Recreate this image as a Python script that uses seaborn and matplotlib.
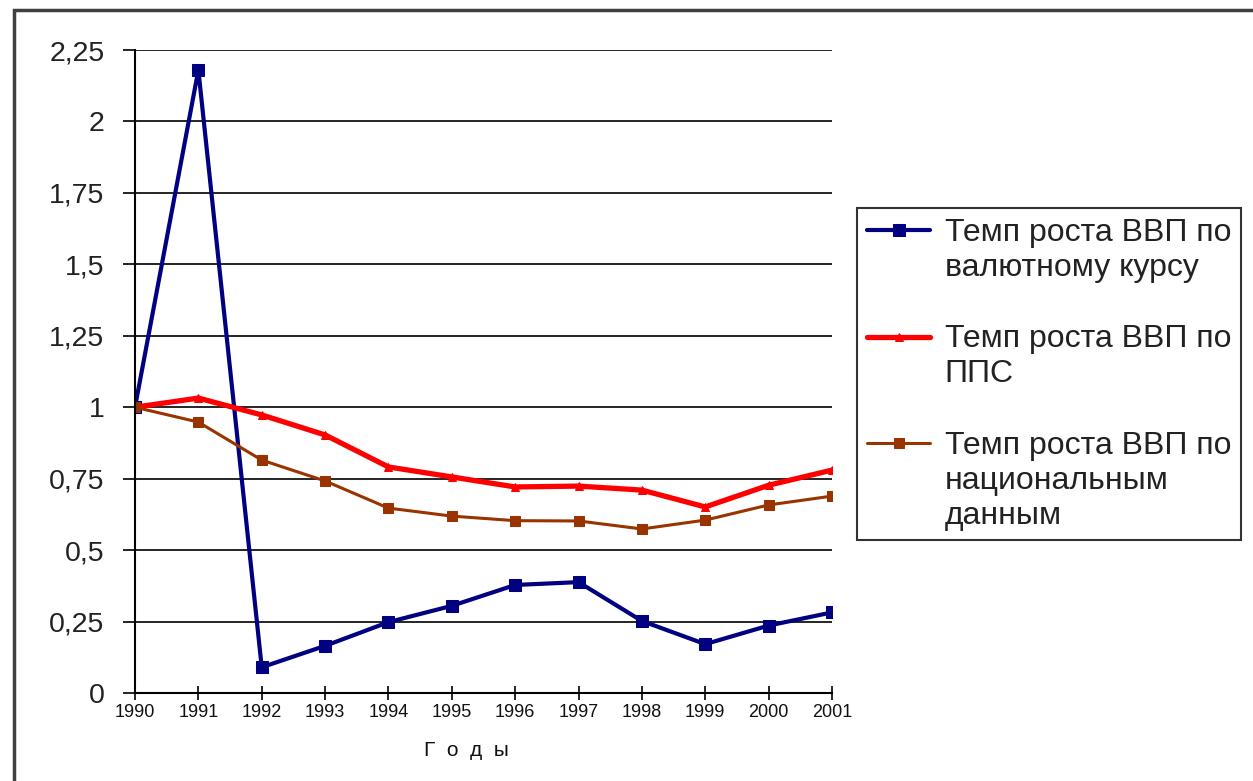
import matplotlib
matplotlib.use("Agg")
import matplotlib.pyplot as plt
import matplotlib.patches as patches
import seaborn as sns
import numpy as np

# data
years = [1990, 1991, 1992, 1993, 1994, 1995, 1996, 1997, 1998, 1999, 2000, 2001]
gdp_fx = [1.0, 2.18, 0.09, 0.165, 0.248, 0.305, 0.378, 0.388, 0.252, 0.171, 0.236, 0.282]
gdp_ppp = [1.0, 1.032, 0.973, 0.903, 0.791, 0.756, 0.721, 0.724, 0.71, 0.651, 0.727, 0.78]
gdp_nat = [1.0, 0.948, 0.815, 0.742, 0.647, 0.619, 0.603, 0.602, 0.574, 0.605, 0.658, 0.689]

labels = ["Темп роста ВВП по\nвалютному курсу",
          "Темп роста ВВП по\nППС",
          "Темп роста ВВП по\nнациональным\nданным"]
y_ticks = [0, 0.25, 0.5, 0.75, 1, 1.25, 1.5, 1.75, 2, 2.25]
y_ticklabels = ["0", "0,25", "0,5", "0,75", "1", "1,25", "1,5", "1,75", "2", "2,25"]

sns.set_style("white")
plt.rcParams['font.family'] = ['Liberation Sans', 'DejaVu Sans']

fig = plt.figure(figsize=(12.53, 7.81), dpi=100)
ax = fig.add_axes([135 / 1253, 1 - 693 / 781, (832 - 135) / 1253, (693 - 50) / 781])

sns.lineplot(x=years, y=gdp_fx, ax=ax, color='#000080', linewidth=3.0,
             marker='s', markersize=9, markeredgecolor='#000080', label=labels[0])
sns.lineplot(x=years, y=gdp_ppp, ax=ax, color='#ff0000', linewidth=3.8,
             marker='^', markersize=6, markeredgecolor='#ff0000', label=labels[1])
sns.lineplot(x=years, y=gdp_nat, ax=ax, color='#993300', linewidth=2.2,
             marker='s', markersize=6.5, markeredgecolor='#993300', label=labels[2])

ax.set_xlim(1990, 2001)
ax.set_ylim(0, 2.25)
ax.set_yticks(y_ticks)
ax.set_yticklabels(y_ticklabels, fontsize=20.5, color='#222222')
ax.set_xticks(years)
ax.set_xticklabels([str(y) for y in years], fontsize=13, color='#111111')
ax.tick_params(axis='y', direction='out', length=9, width=1.2, color='black', pad=13, left=True)
ax.tick_params(axis='x', direction='inout', length=10, width=1.2, color='black', pad=3, bottom=True)
ax.yaxis.grid(True, color='black', linewidth=1.2)
ax.xaxis.grid(False)
ax.set_axisbelow(True)
for side in ['top', 'right']:
    ax.spines[side].set_visible(False)
for side in ['left', 'bottom']:
    ax.spines[side].set_color('black')
    ax.spines[side].set_linewidth(1.5)
ax.spines['bottom'].set_zorder(5)

ax.set_xlabel("Г  о  д  ы", fontsize=15, color='#111111')
ax.xaxis.set_label_coords((466 - 135) / 697, -0.075)
ax.set_ylabel("")

leg = ax.legend(loc='upper left', bbox_to_anchor=(857 / 1253, 1 - 208 / 781),
                bbox_transform=fig.transFigure, fontsize=23, frameon=True,
                fancybox=False, edgecolor='black', handlelength=2.0, handleheight=1.0,
                handletextpad=0.45, labelspacing=1.3, borderpad=0.3, borderaxespad=0)
leg.get_frame().set_linewidth(1.5)
for t in leg.get_texts():
    t.set_color('#222222')
    t.set_linespacing(1.22)
# put each handle level with the first line of its label
for col in leg._legend_handle_box.get_children():
    for row in col.get_children():
        row.align = "top"

# outer chart frame
frame = patches.Rectangle((14 / 1253, -0.05), 1.2, 1 - 10 / 781 + 0.05,
                          transform=fig.transFigure, fill=False,
                          edgecolor='#404040', linewidth=2.5, clip_on=False)
fig.patches.append(frame)

fig.savefig('out.png', dpi=100)
